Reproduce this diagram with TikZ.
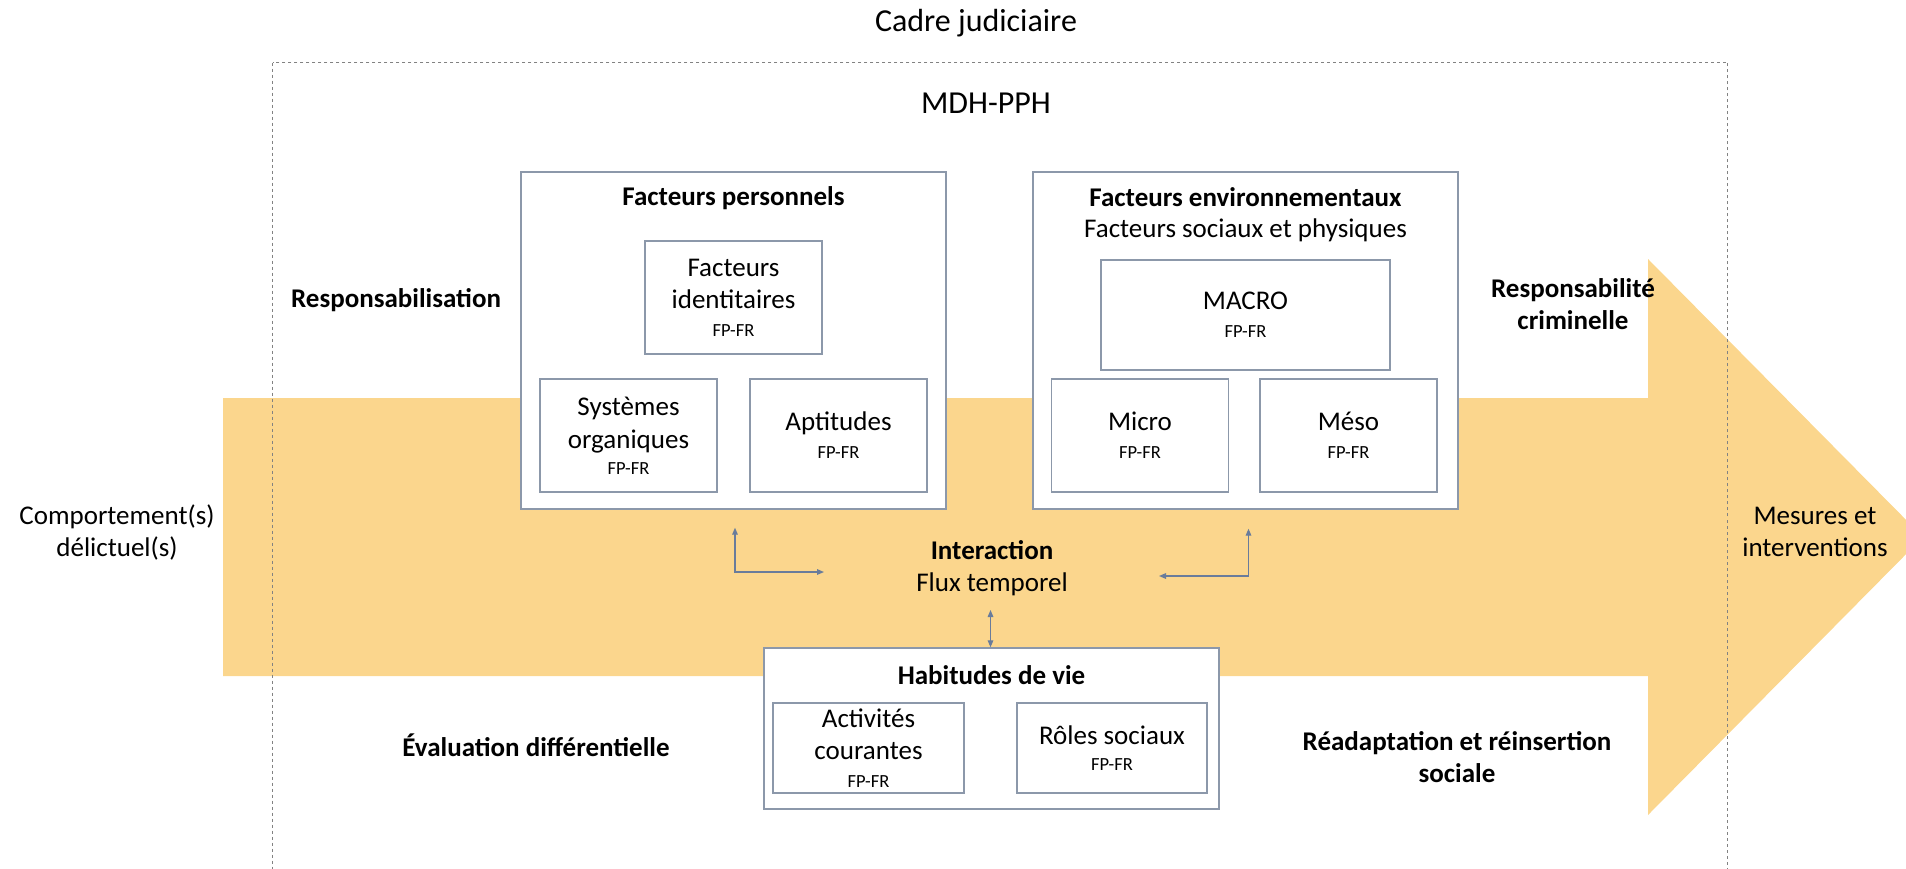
\documentclass[tikz,border=0pt]{standalone}
\usepackage{fontspec}
\setmainfont{Carlito}
\usetikzlibrary{arrows.meta}
\definecolor{arrowfill}{RGB}{251,214,141}
\definecolor{boxline}{RGB}{140,152,170}
\definecolor{connc}{RGB}{105,124,155}
\definecolor{dashgray}{RGB}{130,130,130}
\newcommand{\nsize}{\fontsize{13.5}{16}\selectfont}
\newcommand{\bigsize}{\fontsize{16}{19}\selectfont}
\newcommand{\smsize}{\fontsize{9.25}{11}\selectfont}
\newcommand{\fpfr}{{\smsize FP-FR}}
\begin{document}
\begin{tikzpicture}[x=0.5pt,y=-0.5pt,
  box/.style={draw=boxline, line width=0.7pt, fill=white, inner sep=0pt, align=center, font=\nsize},
  smallbox/.style={box, minimum width=88.5pt, minimum height=56.5pt},
  txt/.style={inner sep=0pt, align=center, font=\nsize},
  btxt/.style={inner sep=0pt, align=center, font=\nsize\bfseries},
  conn/.style={draw=connc, line width=0.6pt, {Triangle[length=3.5pt,width=2.8pt]}-{Triangle[length=3.5pt,width=2.8pt]}}]
\clip (0,0) rectangle (1906,868);
% big arrow
\fill[arrowfill] (223,398) -- (1648,398) -- (1648,259) -- (1923,537) -- (1648,815) -- (1648,676) -- (223,676) -- cycle;
% dashed frame
\draw[dashgray, line width=0.5pt, dash pattern=on 1.5pt off 1.5pt] (272.5,62.5) rectangle (1727.5,900);
% titles
\node[txt, font=\bigsize] (cadre) at (976,23) {Cadre judiciaire};
\node[txt, font=\bigsize] (mdh) at (986,103) {MDH-PPH};
% personal factors
\node[box, minimum width=212.5pt, minimum height=168.5pt] (fp) at (733.5,340.5) {};
\node[btxt] (fpt) at (733.5,198) {Facteurs personnels};
\node[smallbox] (fi) at (733.5,297.5) {Facteurs\\identitaires\\[-2pt]\fpfr};
\node[smallbox] (so) at (628.5,435.5) {Systèmes\\[0.5pt]organiques\\[-3pt]\fpfr};
\node[smallbox] (ap) at (838.5,435.5) {Aptitudes\\[-2pt]\fpfr};
% environmental factors
\node[box, minimum width=212.5pt, minimum height=168.5pt] (fe) at (1245.5,340.5) {};
\node[btxt] (fet) at (1245.5,197) {Facteurs environnementaux};
\node[txt] (fes) at (1245.5,230) {Facteurs sociaux et physiques};
\node[box, minimum width=144.5pt, minimum height=55pt] (macro) at (1245.5,315) {MACRO\\[-2pt]\fpfr};
\node[smallbox] (micro) at (1140,435.5) {Micro\\[-2pt]\fpfr};
\node[smallbox] (meso) at (1348.5,435.5) {Méso\\[-2pt]\fpfr};
% life habits
\node[box, minimum width=227.5pt, minimum height=80.5pt] (hv) at (991.5,728.5) {};
\node[btxt] (hvt) at (991.5,675) {Habitudes de vie};
\node[box, minimum width=95.5pt, minimum height=45pt] (ac) at (868.5,748) {Activités\\courantes\\[-2pt]\fpfr};
\node[box, minimum width=95pt, minimum height=45pt] (rs) at (1112,748) {Rôles sociaux\\[-3pt]\fpfr};
% free labels
\node[btxt] (resp) at (396,300) {Responsabilisation};
\node[txt] (comp) at (117,532) {Comportement(s)\\délictuel(s)};
\node[btxt] (eval) at (536,745) {Évaluation différentielle};
\node[btxt] (respc) at (1573,304) {Responsabilité\\criminelle};
\node[txt] (mes) at (1815,532) {Mesures et\\interventions};
\node[btxt] (read) at (1457,757) {Réadaptation et réinsertion\\sociale};
\node[txt] (inter) at (992,568) {\textbf{Interaction}\\Flux temporel};
% connectors
\coordinate (l1) at (824,572);
\coordinate (r1) at (1159,576);
\coordinate (c1) at (990.5,610);
\draw[conn] (l1) -| ([xshift=0.75pt,yshift=-9pt]fp.south);
\draw[conn] (r1) -| ([xshift=1.5pt,yshift=-9.5pt]fe.south);
\draw[conn] (c1) -- (c1 |- hv.north);
\end{tikzpicture}
\end{document}
